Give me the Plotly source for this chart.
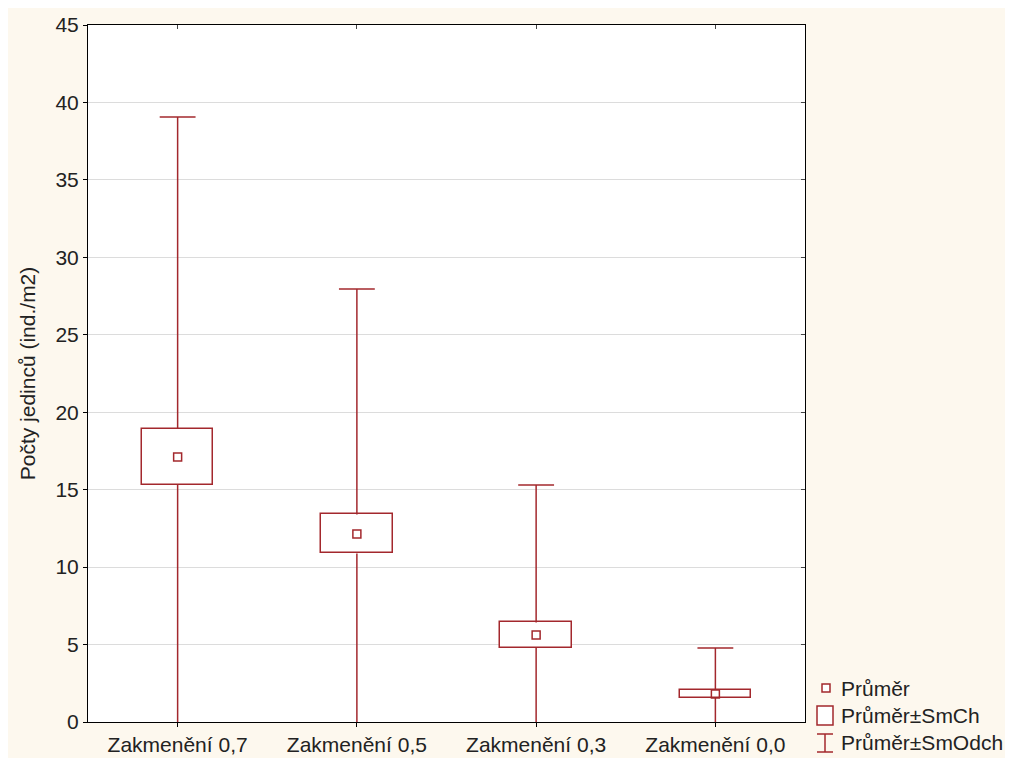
import plotly.graph_objects as go

categories = ["Zakmenění 0,7", "Zakmenění 0,5", "Zakmenění 0,3", "Zakmenění 0,0"]
means = [17.11, 12.14, 5.62, 1.81]
se = [1.81, 1.26, 0.81, 0.26]
sd = [21.95, 15.81, 9.68, 2.97]

y_ticks = [0, 5, 10, 15, 20, 25, 30, 35, 40, 45]

RED = "#a3282d"
FONT = "Liberation Sans, Arial, sans-serif"
TXT = "#222222"
FS = 21

OFF = 8  # page body margin
W, H = 1005, 750
L, R, T, B = 80, 208, 17, 36
PW, PH = W - L - R, H - T - B


def px(x):
    return (x - OFF - L) / PW


def py(y):
    return (H - B - (y - OFF)) / PH


pos = list(range(len(categories)))
box_w = 0.4
cap = 0.1

# whiskers built from data
wx, wy = [], []
for i, m, s, d in zip(pos, means, se, sd):
    wx += [i, i, None, i, i, None, i - cap, i + cap, None, i - cap, i + cap, None]
    wy += [m + s, m + d, None, m - s, m - d, None, m + d, m + d, None, m - d, m - d, None]

fig = go.Figure()

fig.add_trace(go.Bar(
    x=pos, y=[2 * s for s in se], base=[m - s for m, s in zip(means, se)],
    width=box_w, marker=dict(color="white", line=dict(color=RED, width=1.5)),
    showlegend=False, hoverinfo="skip"))

fig.add_trace(go.Scatter(
    x=wx, y=wy, mode="lines", line=dict(color=RED, width=1.5),
    showlegend=False, hoverinfo="skip"))

fig.add_trace(go.Scatter(
    x=pos, y=means, mode="markers",
    marker=dict(symbol="square-open", size=8, color=RED, line=dict(width=1.5, color=RED)),
    showlegend=False))

# helper trace so the top/right tick axes are drawn
fig.add_trace(go.Scatter(x=[None], y=[None], xaxis="x2", yaxis="y2",
                         mode="markers", showlegend=False, hoverinfo="skip"))

shapes = []
# legend symbols
shapes.append(dict(type="rect", xref="paper", yref="paper", x0=px(822), x1=px(830), y0=py(692), y1=py(684),
                   line=dict(color=RED, width=1.5), fillcolor="white"))
shapes.append(dict(type="rect", xref="paper", yref="paper", x0=px(817), x1=px(833), y0=py(725), y1=py(706),
                   line=dict(color=RED, width=1.5), fillcolor="white"))
shapes.append(dict(type="line", xref="paper", yref="paper", x0=px(825), x1=px(825), y0=py(752), y1=py(734),
                   line=dict(color=RED, width=1.5)))
shapes.append(dict(type="line", xref="paper", yref="paper", x0=px(817), x1=px(833), y0=py(734), y1=py(734),
                   line=dict(color=RED, width=1.5)))
shapes.append(dict(type="line", xref="paper", yref="paper", x0=px(817), x1=px(833), y0=py(752), y1=py(752),
                   line=dict(color=RED, width=1.5)))

legend_texts = ["Průměr", "Průměr±SmCh", "Průměr±SmOdch"]
legend_y = [688, 715, 742]
annotations = []
for t, yy in zip(legend_texts, legend_y):
    annotations.append(dict(text=t, xref="paper", yref="paper", x=px(839), y=py(yy),
                            xanchor="left", yanchor="middle", showarrow=False,
                            font=dict(family=FONT, size=FS, color=TXT)))

fig.update_layout(
    width=W, height=H,
    margin=dict(l=L, r=R, t=T, b=B, pad=0),
    paper_bgcolor="#fdf8ee", plot_bgcolor="white",
    shapes=shapes, annotations=annotations,
    showlegend=False,
    font=dict(family=FONT, size=FS, color=TXT),
    xaxis=dict(range=[-0.5, 3.5], tickvals=pos, ticktext=categories, showgrid=False,
               showline=True, linecolor="black", linewidth=1, mirror=True,
               ticks="outside", ticklen=4, tickcolor="black", automargin=False, zeroline=False,
               tickfont=dict(family=FONT, size=FS, color=TXT)),
    yaxis=dict(range=[0, 45], tickvals=y_ticks, showgrid=True, gridcolor="#dcdcdc", gridwidth=1,
               showline=True, linecolor="black", linewidth=1, mirror=True,
               ticks="outside", ticklen=4, tickcolor="black", automargin=False, zeroline=False,
               tickfont=dict(family=FONT, size=FS, color=TXT),
               title=dict(text="Počty jedinců (ind./m2)", standoff=14,
                          font=dict(family=FONT, size=FS, color=TXT))),
    xaxis2=dict(overlaying="x", side="top", range=[-0.5, 3.5], tickvals=pos,
                showticklabels=False, ticks="inside", ticklen=4, tickcolor="#444444",
                showgrid=False, showline=False, zeroline=False, automargin=False),
    yaxis2=dict(overlaying="y", side="right", range=[0, 45], tickvals=y_ticks,
                showticklabels=False, ticks="inside", ticklen=4, tickcolor="#444444",
                showgrid=False, showline=False, zeroline=False, automargin=False),
    bargap=0,
)

fig.write_html("out.html")
